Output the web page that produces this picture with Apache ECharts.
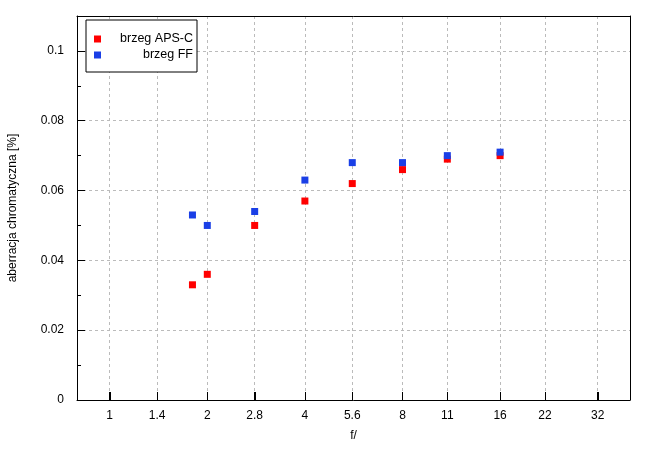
<!DOCTYPE html>
<html>
<head>
<meta charset="utf-8">
<script src="https://cdn.jsdelivr.net/npm/echarts@6/dist/echarts.min.js"></script>
<style>html,body{margin:0;padding:0;background:#fff;}#c{width:655px;height:455px;}</style>
</head>
<body>
<div id="c"></div>
<script>
const fStops = [1.8, 2, 2.8, 4, 5.6, 8, 11, 16];
const apsc = [0.033, 0.036, 0.050, 0.057, 0.062, 0.066, 0.069, 0.070];
const ff = [0.053, 0.050, 0.054, 0.063, 0.068, 0.068, 0.070, 0.071];
const xTicks = [1, 1.4, 2, 2.8, 4, 5.6, 8, 11, 16, 22, 32];
const seriesNames = ['brzeg APS-C', 'brzeg FF'];

const yMax = 0.11;
// x axis is logarithmic in the f-number: positions are log2(f)
const xPos = xTicks.map(Math.log2);
const xLabel = v => {
  let best = 0;
  xPos.forEach((p, i) => { if (Math.abs(p - v) < Math.abs(xPos[best] - v)) best = i; });
  return String(xTicks[best]);
};

const font = 'Liberation Sans, Arial, sans-serif';
const frame = () => ({show: true, onZero: false, lineStyle: {color: '#000', width: 1}});
const chart = echarts.init(document.getElementById('c'));
chart.setOption({
  animation: false,
  backgroundColor: '#fff',
  textStyle: {fontFamily: font},
  grid: {left: 77, right: 25, top: 16, bottom: 55, outerBoundsMode: 'none', containLabel: false, show: false},
  legend: {
    orient: 'vertical', left: 86, top: 20,
    padding: [12, 4, 10, 8],
    borderColor: '#000', borderWidth: 1, backgroundColor: '#fff',
    itemWidth: 7, itemHeight: 7, itemGap: 2, itemTextGap: 5,
    icon: 'rect',
    data: seriesNames,
    formatter: n => '{a|' + n + '}',
    textStyle: {
      fontFamily: font, fontSize: 12.5, color: '#000', lineHeight: 14,
      rich: {a: {width: 87, align: 'right', fontFamily: font, fontSize: 12.5, color: '#000', lineHeight: 14}}
    }
  },
  xAxis: [{
    type: 'value', min: -0.335, max: 5.331, position: 'bottom',
    name: 'f/', nameLocation: 'middle', nameGap: 30,
    nameTextStyle: {fontFamily: font, fontSize: 12, color: '#000'},
    axisLine: frame(),
    axisTick: {show: true, inside: true, length: 8, customValues: xPos, lineStyle: {color: '#000', width: 1}},
    axisLabel: {customValues: xPos, margin: 10, fontFamily: font, fontSize: 12, color: '#000', formatter: xLabel},
    splitLine: {show: true, lineStyle: {color: '#bbb', type: [3, 3], width: 1}}
  }, {
    type: 'value', min: -0.335, max: 5.331, position: 'top',
    axisLine: frame(), axisTick: {show: false}, axisLabel: {show: false}, splitLine: {show: false}
  }],
  yAxis: [{
    type: 'value', min: 0, max: yMax, interval: 0.02, position: 'left',
    name: 'aberracja chromatyczna [%]', nameLocation: 'middle', nameGap: 58,
    nameTextStyle: {fontFamily: font, fontSize: 12, color: '#000'},
    axisLine: frame(),
    axisTick: {show: true, inside: true, length: 8, lineStyle: {color: '#000'}},
    axisLabel: {showMaxLabel: false, margin: 13, fontFamily: font, fontSize: 12, color: '#000', formatter: v => String(+v.toFixed(4))},
    splitLine: {show: true, lineStyle: {color: '#bbb', type: [3, 3], width: 1}}
  }, {
    type: 'value', min: 0, max: yMax, interval: 0.01, position: 'left', offset: 0,
    axisLine: {show: false, onZero: false},
    axisTick: {show: true, inside: true, length: 4, lineStyle: {color: '#000'}},
    axisLabel: {show: false},
    splitLine: {show: false}
  }, {
    type: 'value', min: 0, max: yMax, position: 'right',
    axisLine: frame(), axisTick: {show: false}, axisLabel: {show: false}, splitLine: {show: false}
  }],
  series: [
    {name: seriesNames[0], type: 'scatter', symbol: 'rect', symbolSize: 7, itemStyle: {color: '#ff0000', opacity: 1},
     data: fStops.map((f, i) => [Math.log2(f), apsc[i]])},
    {name: seriesNames[1], type: 'scatter', symbol: 'rect', symbolSize: 7, itemStyle: {color: '#1a3fe6', opacity: 1},
     data: fStops.map((f, i) => [Math.log2(f), ff[i]])}
  ]
});

// reinforce the inside tick marks of the f/ axis, positioned through the axis scale
const y0 = Math.round(chart.convertToPixel({gridIndex: 0}, [0, 0])[1]);
chart.setOption({
  graphic: xPos.map(p => ({
    type: 'rect', silent: true, zlevel: 1, z: 100,
    shape: {x: Math.round(chart.convertToPixel({gridIndex: 0}, [p, 0])[0]), y: y0 - 8, width: 1, height: 8},
    style: {fill: '#000'}
  }))
});
</script>
</body>
</html>
